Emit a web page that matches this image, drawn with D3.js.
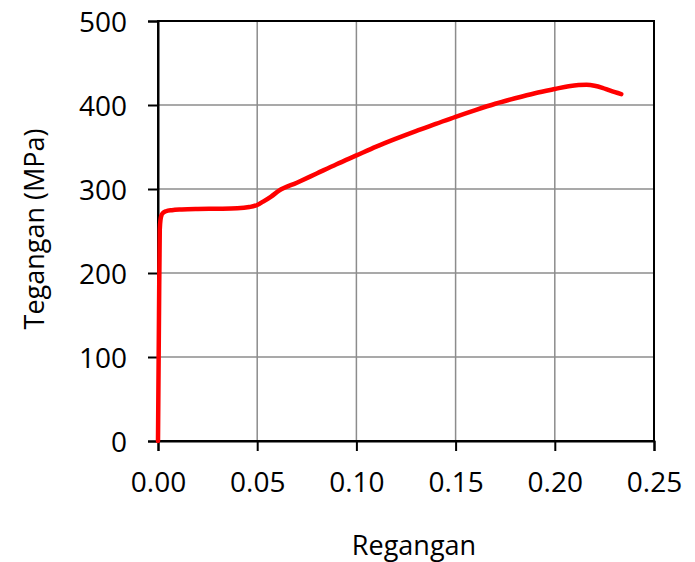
<!DOCTYPE html>
<html>
<head>
<meta charset="utf-8">
<script src="https://cdn.jsdelivr.net/npm/d3@7"></script>
<style>
  html, body { margin: 0; padding: 0; background: #fff; }
  svg { display: block; }
  text { font-family: "Open Sans", "Liberation Sans", sans-serif; fill: #000; }
</style>
</head>
<body>
<svg id="chart" width="695" height="562"></svg>
<script>
// Stress–strain curve of a steel tensile test
const strain = [0, 0.0005, 0.0009, 0.0013, 0.0018, 0.0025, 0.004, 0.007, 0.012, 0.02, 0.03, 0.04, 0.046, 0.05, 0.053, 0.057, 0.061, 0.07, 0.08, 0.09, 0.10, 0.11, 0.12, 0.13, 0.14, 0.15, 0.16, 0.17, 0.18, 0.19, 0.20, 0.207, 0.212, 0.216, 0.22, 0.224, 0.228, 0.2335];
const stress = [0, 150, 252, 264, 269, 271.5, 273.5, 274.8, 275.6, 276.2, 276.5, 277, 278.5, 281, 285, 291, 298, 307.5, 318.5, 329.5, 340, 350.5, 360, 369, 377.5, 386, 394, 401.5, 408, 414, 419, 422.3, 423.7, 424, 423, 420.5, 417, 413];

const xTicks = [0, 0.05, 0.10, 0.15, 0.20, 0.25];
const yTicks = [0, 100, 200, 300, 400, 500];
const xTitle = "Regangan";
const yTitle = "Tegangan (MPa)";

const svg = d3.select("#chart");
const W = 695, H = 562;
const m = { left: 158, right: 41, top: 21, bottom: 121 };

const x = d3.scaleLinear().domain([0, 0.25]).range([m.left, W - m.right]);
const y = d3.scaleLinear().domain([0, 500]).range([H - m.bottom, m.top]);

// grid
const grid = svg.append("g").attr("stroke", "#8c8c8c").attr("stroke-width", 1.5);
grid.selectAll("line.v").data(xTicks.slice(1, -1)).join("line")
  .attr("x1", d => x(d)).attr("x2", d => x(d))
  .attr("y1", y(0)).attr("y2", y(500));
grid.selectAll("line.h").data(yTicks.slice(1, -1)).join("line")
  .attr("x1", x(0)).attr("x2", x(0.25))
  .attr("y1", d => y(d)).attr("y2", d => y(d));

// frame
svg.append("rect")
  .attr("x", x(0)).attr("y", y(500))
  .attr("width", x(0.25) - x(0)).attr("height", y(0) - y(500))
  .attr("fill", "none").attr("stroke", "#000").attr("stroke-width", 2);

// axes
const xAxis = d3.axisBottom(x).tickValues(xTicks).tickFormat(d3.format(".2f"))
  .tickSize(10).tickPadding(21);
const yAxis = d3.axisLeft(y).tickValues(yTicks).tickFormat(d3.format("d"))
  .tickSize(10).tickPadding(21);

const gx = svg.append("g").attr("transform", `translate(0,${y(0)})`).call(xAxis);
const gy = svg.append("g").attr("transform", `translate(${x(0)},0)`).call(yAxis);
[gx, gy].forEach(g => {
  g.select(".domain").attr("stroke", "#000").attr("stroke-width", 2);
  g.selectAll(".tick line").attr("stroke", "#000").attr("stroke-width", 2);
  g.selectAll(".tick text").attr("font-size", 28).attr("font-family", "'Open Sans', sans-serif").attr("fill", "#000");
});
gy.selectAll(".tick text").attr("dy", "0.36em");

// curve
const pts = strain.map((s, i) => [s, stress[i]]);
svg.append("path")
  .datum(pts)
  .attr("fill", "none")
  .attr("stroke", "#ff0000")
  .attr("stroke-width", 4.5)
  .attr("stroke-linejoin", "round")
  .attr("stroke-linecap", "round")
  .attr("d", d3.line().x(d => x(d[0])).y(d => y(d[1])).curve(d3.curveMonotoneX));

// titles
svg.append("text")
  .attr("x", 414).attr("y", 555)
  .attr("text-anchor", "middle").attr("font-size", 27)
  .text(xTitle);
svg.append("text")
  .attr("transform", `translate(44,229) rotate(-90)`)
  .attr("text-anchor", "middle").attr("font-size", 27)
  .text(yTitle);
</script>
</body>
</html>
